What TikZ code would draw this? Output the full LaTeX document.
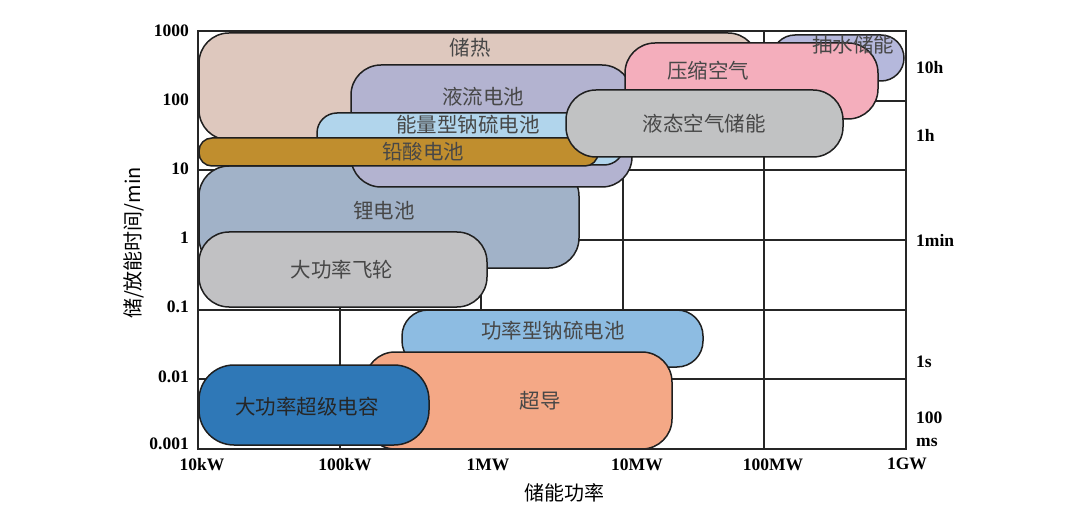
\documentclass[tikz,border=0pt]{standalone}
\usepackage{fontspec}
\setmainfont{Liberation Serif}
\newfontfamily\cjk{Noto Sans CJK SC}
\definecolor{cThermal}{HTML}{DEC8BE}
\definecolor{cFlow}{HTML}{B3B3D0}
\definecolor{cNaSE}{HTML}{B1D5EC}
\definecolor{cLead}{HTML}{C08E2E}
\definecolor{cLi}{HTML}{A1B2C8}
\definecolor{cFly}{HTML}{C1C1C3}
\definecolor{cNaSP}{HTML}{8DBCE2}
\definecolor{cSC}{HTML}{F4A886}
\definecolor{cCap}{HTML}{2F78B7}
\definecolor{cCAES}{HTML}{F4AEBC}
\definecolor{cLAir}{HTML}{C1C2C3}
\definecolor{cPump}{HTML}{B5B8DC}
\definecolor{cText}{HTML}{474747}
\tikzset{
  gridline/.style={line width=1.6pt, black!85},
  blob/.style={draw=black!88, line width=1.5pt},
  lab/.style={font=\cjk\fontsize{20.5}{21}\selectfont, text=cText, inner sep=0pt},
  tick/.style={font=\bfseries\fontsize{17.5}{18}\selectfont, inner sep=0pt},
  axtitle/.style={font=\cjk\fontsize{20}{21}\selectfont, inner sep=0pt},
}
\begin{document}
\begin{tikzpicture}[x=1pt,y=-1pt]
\useasboundingbox (0,0) rectangle (1080,516);
% grid
\foreach \gx in {198,340,481,623,764,906} {\draw[gridline] (\gx,31) -- (\gx,449);}
\foreach \gy in {31,101,170,240,310,379,449} {\draw[gridline] (198,\gy) -- (906,\gy);}
% shapes
\draw[blob, fill=cThermal, rounded corners=30pt] (199,33) rectangle (758,140);
\draw[blob, fill=cLi, rounded corners=30pt] (199,166) rectangle (579,268);
\draw[blob, fill=cFlow, rounded corners=30pt] (351,65) rectangle (632,187);
\draw[blob, fill=cNaSE, rounded corners=20pt] (317,113) rectangle (624,165);
\draw[blob, fill=cLead, rounded corners=13pt] (199,138) rectangle (598,166);
\draw[blob, fill=cFly, rounded corners=30pt] (199,232) rectangle (487,307);
\draw[blob, fill=cPump, rounded corners=23pt] (772,35) rectangle (904,81);
\draw[blob, fill=cCAES, rounded corners=30pt] (625,43) rectangle (878,119);
\draw[blob, fill=cLAir, rounded corners=30pt] (566,90) rectangle (843,157);
\draw[blob, fill=cNaSP, rounded corners=26pt] (402,310) rectangle (703,367);
\draw[blob, fill=cSC, rounded corners=30pt] (365,352) rectangle (672,449);
\draw[blob, fill=cCap, rounded corners=35pt] (199,365) rectangle (429,445);
% border on top
\draw[gridline] (198,31) rectangle (906,449);
% labels
\node[lab] (tThermal) at (470,48) {储热};
\node[lab] (tFlow) at (483,97) {液流电池};
\node[lab] (tNaSE) at (468,125) {能量型钠硫电池};
\node[lab] (tLead) at (423,152) {铅酸电池};
\node[lab] (tLi) at (384,211) {锂电池};
\node[lab] (tFly) at (342,270) {大功率飞轮};
\node[lab] (tNaSP) at (553,331) {功率型钠硫电池};
\node[lab] (tSC) at (540,401) {超导};
\node[lab, text=black!85] (tCap) at (307,407) {大功率超级电容};
\node[lab] (tCAES) at (708,71) {压缩空气};
\node[lab] (tLAir) at (704,124) {液态空气储能};
\node[lab] (tPump) at (853,45) {抽水储能};
% left ticks
\node[tick, anchor=east] (y0) at (189,31) {1000};
\node[tick, anchor=east] (y1) at (189,100) {100};
\node[tick, anchor=east] (y2) at (189,169) {10};
\node[tick, anchor=east] (y3) at (189,238) {1};
\node[tick, anchor=east] (y4) at (189,307) {0.1};
\node[tick, anchor=east] (y5) at (189,377) {0.01};
\node[tick, anchor=east] (y6) at (189,444) {0.001};
% right ticks
\node[tick, anchor=west] (r1) at (916,68) {10h};
\node[tick, anchor=west] (r2) at (916,135) {1h};
\node[tick, anchor=west] (r3) at (916,240) {1min};
\node[tick, anchor=west] (r4) at (916,362) {1s};
\node[tick, anchor=west] (r5) at (916,418) {100};
\node[tick, anchor=west] (r6) at (916,442) {ms};
% bottom ticks
\node[tick] (x0) at (202,465) {10kW};
\node[tick] (x1) at (345,465) {100kW};
\node[tick] (x2) at (488,465) {1MW};
\node[tick] (x3) at (637,465) {10MW};
\node[tick] (x4) at (773,465) {100MW};
\node[tick] (x5) at (907,464) {1GW};
% axis titles
\node[axtitle] (xt) at (564,493) {储能功率};
\node[axtitle, rotate=90] (yt) at (134,243) {储/放能时间/min};
\end{tikzpicture}
\end{document}
